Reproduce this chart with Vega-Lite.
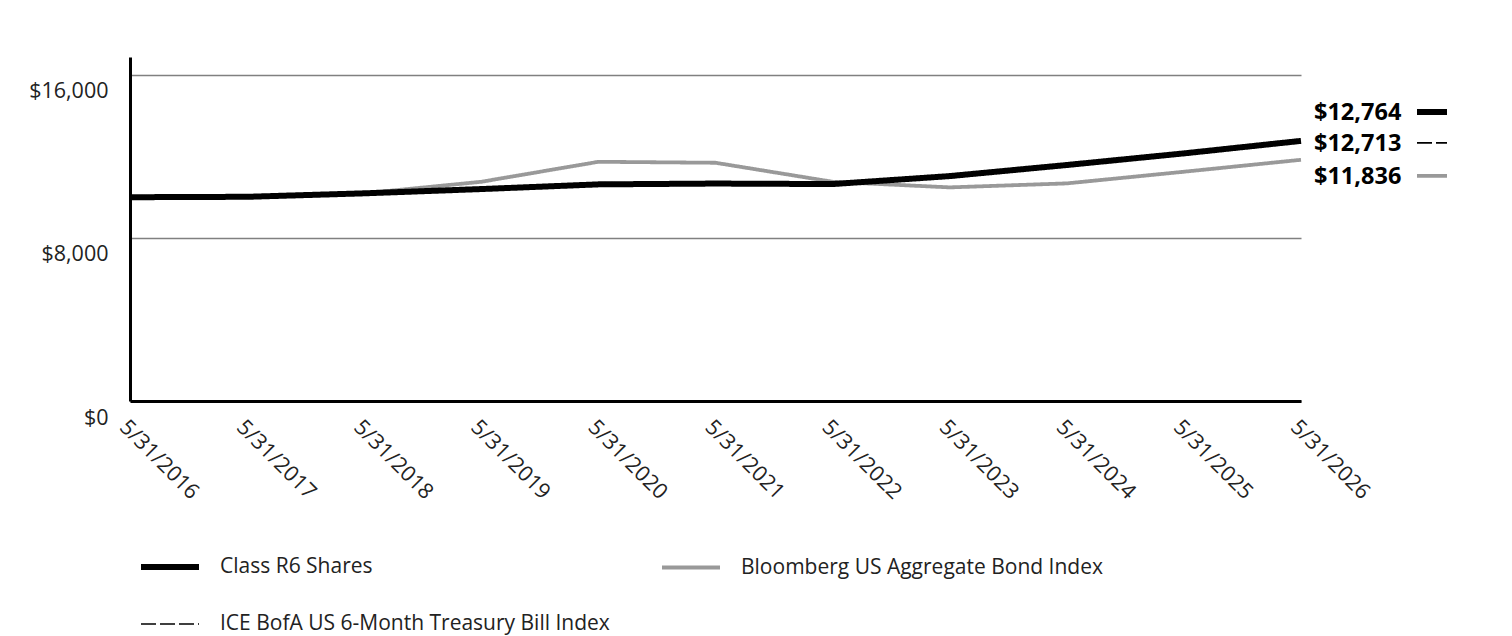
{
  "$schema": "https://vega.github.io/schema/vega-lite/v6.json",
  "width": 1171,
  "height": 344,
  "autosize": {"type": "none"},
  "padding": {"left": 130, "top": 57, "right": 211, "bottom": 235},
  "background": "white",
  "data": {"values": [
    {"date": "5/31/2016", "series": "Class R6 Shares", "value": 10000},
    {"date": "5/31/2017", "series": "Class R6 Shares", "value": 10020},
    {"date": "5/31/2018", "series": "Class R6 Shares", "value": 10190},
    {"date": "5/31/2019", "series": "Class R6 Shares", "value": 10400},
    {"date": "5/31/2020", "series": "Class R6 Shares", "value": 10630},
    {"date": "5/31/2021", "series": "Class R6 Shares", "value": 10670},
    {"date": "5/31/2022", "series": "Class R6 Shares", "value": 10645},
    {"date": "5/31/2023", "series": "Class R6 Shares", "value": 11036},
    {"date": "5/31/2024", "series": "Class R6 Shares", "value": 11580},
    {"date": "5/31/2025", "series": "Class R6 Shares", "value": 12150},
    {"date": "5/31/2026", "series": "Class R6 Shares", "value": 12764},
    {"date": "5/31/2016", "series": "Bloomberg US Aggregate Bond Index", "value": 10000},
    {"date": "5/31/2017", "series": "Bloomberg US Aggregate Bond Index", "value": 10040},
    {"date": "5/31/2018", "series": "Bloomberg US Aggregate Bond Index", "value": 10190},
    {"date": "5/31/2019", "series": "Bloomberg US Aggregate Bond Index", "value": 10757},
    {"date": "5/31/2020", "series": "Bloomberg US Aggregate Bond Index", "value": 11738},
    {"date": "5/31/2021", "series": "Bloomberg US Aggregate Bond Index", "value": 11690},
    {"date": "5/31/2022", "series": "Bloomberg US Aggregate Bond Index", "value": 10757},
    {"date": "5/31/2023", "series": "Bloomberg US Aggregate Bond Index", "value": 10482},
    {"date": "5/31/2024", "series": "Bloomberg US Aggregate Bond Index", "value": 10678},
    {"date": "5/31/2025", "series": "Bloomberg US Aggregate Bond Index", "value": 11250},
    {"date": "5/31/2026", "series": "Bloomberg US Aggregate Bond Index", "value": 11836},
    {"date": "5/31/2016", "series": "ICE BofA US 6-Month Treasury Bill Index", "value": 10000},
    {"date": "5/31/2017", "series": "ICE BofA US 6-Month Treasury Bill Index", "value": 10050},
    {"date": "5/31/2018", "series": "ICE BofA US 6-Month Treasury Bill Index", "value": 10170},
    {"date": "5/31/2019", "series": "ICE BofA US 6-Month Treasury Bill Index", "value": 10420},
    {"date": "5/31/2020", "series": "ICE BofA US 6-Month Treasury Bill Index", "value": 10620},
    {"date": "5/31/2021", "series": "ICE BofA US 6-Month Treasury Bill Index", "value": 10640},
    {"date": "5/31/2022", "series": "ICE BofA US 6-Month Treasury Bill Index", "value": 10640},
    {"date": "5/31/2023", "series": "ICE BofA US 6-Month Treasury Bill Index", "value": 10960},
    {"date": "5/31/2024", "series": "ICE BofA US 6-Month Treasury Bill Index", "value": 11530},
    {"date": "5/31/2025", "series": "ICE BofA US 6-Month Treasury Bill Index", "value": 12100},
    {"date": "5/31/2026", "series": "ICE BofA US 6-Month Treasury Bill Index", "value": 12713}
  ]},
  "encoding": {
    "x": {
      "field": "date", "type": "ordinal",
      "scale": {"type": "point", "padding": 0},
      "axis": {
        "title": null, "domainColor": "#000000", "domainWidth": 3, "ticks": false, "grid": false,
        "labelAngle": 45, "labelAlign": "left", "labelBaseline": "top", "labelPadding": 15,
        "labelFont": "Open Sans", "labelFontSize": 21.5, "labelColor": "#222222"
      }
    },
    "y": {
      "field": "value", "type": "quantitative",
      "scale": {"domain": [0, 16880], "nice": false, "zero": true},
      "axis": {
        "title": null, "values": [0, 8000, 16000], "format": "$,.0f",
        "domainColor": "#000000", "domainWidth": 3, "ticks": false,
        "grid": true, "gridColor": "#808080", "gridWidth": 1.5,
        "labelOffset": 17, "labelPadding": 22,
        "labelFont": "Open Sans", "labelFontSize": 21.5, "labelColor": "#222222"
      }
    }
  },
  "layer": [
    {
      "transform": [{"filter": "datum.series === 'Bloomberg US Aggregate Bond Index'"}],
      "mark": {"type": "line"},
      "encoding": {
        "color": {"field": "series", "type": "nominal", "scale": {"domain": ["Class R6 Shares", "Bloomberg US Aggregate Bond Index", "ICE BofA US 6-Month Treasury Bill Index"], "range": ["#000000", "#999999", "#000000"]}, "title": null},
        "strokeWidth": {"field": "series", "type": "nominal", "scale": {"domain": ["Class R6 Shares", "Bloomberg US Aggregate Bond Index", "ICE BofA US 6-Month Treasury Bill Index"], "range": [6, 1.6, 1.8]}, "title": null},
        "strokeDash": {"field": "series", "type": "nominal", "scale": {"domain": ["Class R6 Shares", "Bloomberg US Aggregate Bond Index", "ICE BofA US 6-Month Treasury Bill Index"], "range": [[1, 0], [1, 0], [15, 4]]}, "title": null}
      }
    },
    {
      "transform": [{"filter": "datum.series === 'ICE BofA US 6-Month Treasury Bill Index'"}],
      "mark": {"type": "line"},
      "encoding": {
        "color": {"field": "series", "type": "nominal", "title": null},
        "strokeWidth": {"field": "series", "type": "nominal", "title": null},
        "strokeDash": {"field": "series", "type": "nominal", "title": null}
      }
    },
    {
      "transform": [{"filter": "datum.series === 'Class R6 Shares'"}],
      "mark": {"type": "line"},
      "encoding": {
        "color": {"field": "series", "type": "nominal", "title": null},
        "strokeWidth": {"field": "series", "type": "nominal", "title": null},
        "strokeDash": {"field": "series", "type": "nominal", "title": null}
      }
    },
    {
      "transform": [{"filter": "datum.date === '5/31/2026' && datum.series === 'Class R6 Shares'"}],
      "mark": {"type": "text", "align": "left", "baseline": "middle", "dx": 13, "dy": -28, "font": "Open Sans", "fontSize": 23.5, "fontWeight": "bold", "color": "#000000"},
      "encoding": {"text": {"field": "value", "type": "quantitative", "format": "$,.0f"}}
    },
    {
      "transform": [{"filter": "datum.date === '5/31/2026' && datum.series === 'ICE BofA US 6-Month Treasury Bill Index'"}],
      "mark": {"type": "text", "align": "left", "baseline": "middle", "dx": 13, "dy": 2, "font": "Open Sans", "fontSize": 23.5, "fontWeight": "bold", "color": "#000000"},
      "encoding": {"text": {"field": "value", "type": "quantitative", "format": "$,.0f"}}
    },
    {
      "transform": [{"filter": "datum.date === '5/31/2026' && datum.series === 'Bloomberg US Aggregate Bond Index'"}],
      "mark": {"type": "text", "align": "left", "baseline": "middle", "dx": 13, "dy": 17, "font": "Open Sans", "fontSize": 23.5, "fontWeight": "bold", "color": "#000000"},
      "encoding": {"text": {"field": "value", "type": "quantitative", "format": "$,.0f"}}
    },
    {
      "transform": [{"filter": "datum.date === '5/31/2026' && datum.series === 'Class R6 Shares'"}],
      "mark": {"type": "point", "shape": "stroke", "size": 900, "filled": false, "opacity": 1, "xOffset": 131, "yOffset": -29},
      "encoding": {
        "color": {"field": "series", "type": "nominal", "title": null},
        "strokeWidth": {"field": "series", "type": "nominal", "title": null},
        "strokeDash": {"field": "series", "type": "nominal", "title": null}
      }
    },
    {
      "transform": [{"filter": "datum.date === '5/31/2026' && datum.series === 'ICE BofA US 6-Month Treasury Bill Index'"}],
      "mark": {"type": "point", "shape": "stroke", "size": 900, "filled": false, "opacity": 1, "xOffset": 131, "yOffset": 1},
      "encoding": {
        "color": {"field": "series", "type": "nominal", "title": null},
        "strokeWidth": {"field": "series", "type": "nominal", "title": null},
        "strokeDash": {"field": "series", "type": "nominal", "title": null}
      }
    },
    {
      "transform": [{"filter": "datum.date === '5/31/2026' && datum.series === 'Bloomberg US Aggregate Bond Index'"}],
      "mark": {"type": "point", "shape": "stroke", "size": 900, "filled": false, "opacity": 1, "xOffset": 131, "yOffset": 16},
      "encoding": {
        "color": {"field": "series", "type": "nominal", "title": null},
        "strokeWidth": {"field": "series", "type": "nominal", "title": null},
        "strokeDash": {"field": "series", "type": "nominal", "title": null}
      }
    }
  ],
  "config": {
    "font": "Open Sans",
    "view": {"stroke": null},
    "legend": {
      "orient": "none", "legendX": 8, "legendY": 478, "direction": "horizontal", "columns": 2,
      "symbolType": "stroke", "symbolSize": 3364, "labelOffset": 18,
      "rowPadding": 15, "columnPadding": 44,
      "labelFont": "Open Sans", "labelFontSize": 21, "labelColor": "#222222", "labelLimit": 600
    }
  }
}
